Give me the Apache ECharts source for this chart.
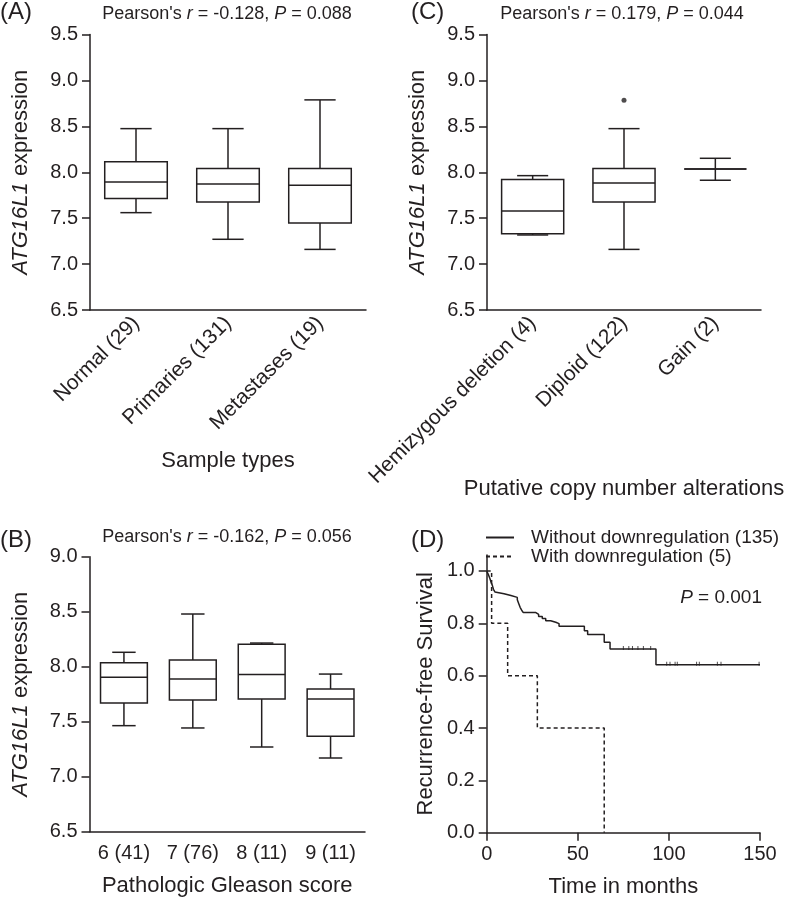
<!DOCTYPE html>
<html><head><meta charset="utf-8">
<script src="https://cdn.jsdelivr.net/npm/echarts@6/dist/echarts.min.js"></script>
<style>html,body{margin:0;padding:0;background:#fff}#c{width:787px;height:901px}</style>
</head><body><div id="c"></div>
<script>
const FONT = '"Liberation Sans", Arial, Helvetica, sans-serif';
const INK = '#231f20';

// ---- Panel A: sample types ----
const catsA = ['Normal (29)', 'Primaries (131)', 'Metastases (19)'];
// [min, Q1, median, Q3, max]
const boxA = [
  [7.56, 7.713, 7.894, 8.115, 8.475],
  [7.27, 7.676, 7.873, 8.04, 8.475],
  [7.16, 7.448, 7.858, 8.04, 8.788]
];
// ---- Panel C: copy number ----
const catsC = ['Hemizygous deletion (4)', 'Diploid (122)', 'Gain (2)'];
const boxC = [
  [7.317, 7.33, 7.578, 7.92, 7.963],
  [7.16, 7.676, 7.883, 8.04, 8.475],
  [7.913, 8.036, 8.036, 8.036, 8.152]
];
const outlierC = [[1, 8.784]];
// ---- Panel B: Gleason ----
const catsB = ['6 (41)', '7 (76)', '8 (11)', '9 (11)'];
const boxB = [
  [7.464, 7.67, 7.903, 8.036, 8.131],
  [7.443, 7.697, 7.888, 8.061, 8.479],
  [7.27, 7.706, 7.93, 8.203, 8.215],
  [7.17, 7.367, 7.706, 7.797, 7.933]
];
// ---- Panel D: Kaplan-Meier ----
const kmWithoutTime = [0, 1.0, 1.8, 2.5, 3.1, 3.7, 4.5, 5.5, 9.5, 13.3, 16.8, 17.6, 18.4, 19.2, 20.1, 27.0, 28.5, 30.5, 32.4, 35.1, 37.9, 39.7, 53.6, 55.4, 64.5, 67.7, 92.9, 150];
const kmWithoutSurv = [1.0, 0.985, 0.97, 0.955, 0.945, 0.93, 0.92, 0.913, 0.906, 0.899, 0.89, 0.875, 0.86, 0.85, 0.841, 0.834, 0.826, 0.818, 0.81, 0.804, 0.799, 0.789, 0.772, 0.757, 0.728, 0.702, 0.642, 0.642];
const censorTime = [75, 78, 80, 83, 86, 90, 98.8, 100.6, 103.4, 104.6, 115.2, 116.7, 126.6, 128.6, 149.5];
const censorSurv = [0.702, 0.702, 0.702, 0.702, 0.702, 0.702, 0.642, 0.642, 0.642, 0.642, 0.642, 0.642, 0.642, 0.642, 0.642];
const kmWithTime = [0, 2.7, 11.5, 27.8, 64.5];
const kmWithSurv = [1.0, 0.8, 0.6, 0.4, 0.0];
const nameWithout = 'Without downregulation (135)';
const nameWith = 'With downregulation (5)';
const ticksD = [0, 0.2, 0.4, 0.6, 0.8, 1.0];

const lineSt = { color: INK, width: 1.5 };
const labelBase = { color: INK, fontSize: 20, fontFamily: FONT };
const nameBase = { color: INK, fontSize: 22, fontFamily: FONT,
  rich: { i: { fontStyle: 'italic', fontSize: 22, fontFamily: FONT, color: INK } } };

function boxItem(params, api) {
  const i = api.value(0);
  const band = api.size([1, 0])[0];
  const bw = band * 0.68, cw = bw * 0.5;
  const p = (k) => api.coord([i, api.value(k)]);
  const x = p(1)[0];
  const yMin = p(1)[1], yQ1 = p(2)[1], yMed = p(3)[1], yQ3 = p(4)[1], yMax = p(5)[1];
  const st = { stroke: INK, lineWidth: 1.5, fill: null };
  const L = (x1, y1, x2, y2) => ({ type: 'line', shape: { x1, y1, x2, y2 }, style: st });
  return { type: 'group', children: [
    L(x, yQ3, x, yMax), L(x, yQ1, x, yMin),
    L(x - cw / 2, yMax, x + cw / 2, yMax), L(x - cw / 2, yMin, x + cw / 2, yMin),
    { type: 'rect', shape: { x: x - bw / 2, y: yQ3, width: bw, height: yQ1 - yQ3 }, style: { stroke: INK, lineWidth: 1.5, fill: '#fff' } },
    L(x - bw / 2, yMed, x + bw / 2, yMed)
  ] };
}

function catAxis(gi, cats, rotate, name, gap, margin, fs) {
  return { type: 'category', gridIndex: gi, data: cats,
    axisLine: { lineStyle: lineSt }, axisTick: { alignWithLabel: true, length: 8, lineStyle: lineSt },
    axisLabel: Object.assign({}, labelBase, { interval: 0, rotate: rotate, margin: margin, fontSize: fs }),
    name: name, nameLocation: 'middle', nameGap: gap, nameMoveOverlap: false, nameTextStyle: nameBase };
}
function exprAxis(gi, min, max) {
  return { type: 'value', gridIndex: gi, min: min, max: max, interval: 0.5,
    axisLine: { show: true, lineStyle: lineSt }, axisTick: { show: true, length: 8, lineStyle: lineSt },
    splitLine: { show: false },
    axisLabel: Object.assign({ margin: 12, formatter: v => v.toFixed(1) }, labelBase),
    name: '{i|ATG16L1} expression', nameLocation: 'middle', nameGap: 58, nameMoveOverlap: false, nameTextStyle: nameBase };
}

const option = {
  animation: false,
  backgroundColor: '#fff',
  textStyle: { fontFamily: FONT },
  grid: [
    { left: 90, top: 34.5, width: 276, height: 275.5 },
    { left: 487, top: 34.5, width: 274, height: 275.5 },
    { left: 89.5, top: 556.7, width: 275.5, height: 275 },
    { left: 486.7, top: 555, width: 273.3, height: 277.7 }
  ],
  xAxis: [
    catAxis(0, catsA, 45, 'Sample types', 140, 10, 21),
    catAxis(1, catsC, 45, 'Putative copy number alterations', 168, 10, 21),
    catAxis(2, catsB, 0, 'Pathologic Gleason score', 43, 12, 20),
    { type: 'value', gridIndex: 3, min: 0, max: 150, interval: 50,
      axisLine: { lineStyle: lineSt }, axisTick: { length: 8, lineStyle: lineSt }, splitLine: { show: false },
      axisLabel: Object.assign({ margin: 12 }, labelBase),
      name: 'Time in months', nameLocation: 'middle', nameGap: 43, nameMoveOverlap: false, nameTextStyle: nameBase }
  ],
  yAxis: [
    exprAxis(0, 6.5, 9.5),
    exprAxis(1, 6.5, 9.5),
    exprAxis(2, 6.5, 9.0),
    { type: 'value', gridIndex: 3, min: 0, max: 1.061, interval: 0.2,
      axisLine: { show: true, lineStyle: lineSt },
      axisTick: { show: true, length: 8, lineStyle: lineSt, customValues: ticksD },
      splitLine: { show: false },
      axisLabel: Object.assign({ margin: 12, formatter: v => v.toFixed(1), customValues: ticksD }, labelBase),
      name: 'Recurrence-free Survival', nameLocation: 'middle', nameGap: 50, nameMoveOverlap: false, nameTextStyle: nameBase }
  ],
  legend: {
    data: [nameWithout, nameWith], left: 485, top: 528, orient: 'vertical',
    itemWidth: 28, itemHeight: 10, itemGap: 0, padding: 0, selectedMode: false,
    itemStyle: { opacity: 0 },
    formatter: n => '{pad|}{n|' + n + '}',
    textStyle: { color: INK, fontSize: 19, fontFamily: FONT, lineHeight: 16,
      rich: { pad: { width: 12 }, n: { fontSize: 19, fontFamily: FONT, color: INK, lineHeight: 16 } } }
  },
  series: [
    { type: 'custom', xAxisIndex: 0, yAxisIndex: 0, renderItem: boxItem,
      encode: { x: 0, y: [1, 2, 3, 4, 5] }, data: boxA.map((b, i) => [i].concat(b)) },
    { type: 'custom', xAxisIndex: 1, yAxisIndex: 1, renderItem: boxItem,
      encode: { x: 0, y: [1, 2, 3, 4, 5] }, data: boxC.map((b, i) => [i].concat(b)) },
    { type: 'scatter', xAxisIndex: 1, yAxisIndex: 1, data: outlierC, symbol: 'circle', symbolSize: 5,
      itemStyle: { color: INK } },
    { type: 'custom', xAxisIndex: 2, yAxisIndex: 2, renderItem: boxItem,
      encode: { x: 0, y: [1, 2, 3, 4, 5] }, data: boxB.map((b, i) => [i].concat(b)) },
    { type: 'line', name: nameWithout, xAxisIndex: 3, yAxisIndex: 3, step: 'end', symbol: 'none',
      lineStyle: { color: INK, width: 1.5, type: 'solid' }, itemStyle: { color: INK },
      data: kmWithoutTime.map((t, i) => [t, kmWithoutSurv[i]]) },
    { type: 'line', name: nameWith, xAxisIndex: 3, yAxisIndex: 3, step: 'end', symbol: 'none',
      lineStyle: { color: INK, width: 1.5, type: [4, 3] }, itemStyle: { color: INK },
      data: kmWithTime.map((t, i) => [t, kmWithSurv[i]]) },
    { type: 'scatter', xAxisIndex: 3, yAxisIndex: 3, symbol: 'rect', symbolSize: [1, 4], symbolOffset: [0, -1],
      itemStyle: { color: INK }, data: censorTime.map((t, i) => [t, censorSurv[i]]) }
  ],
  graphic: [
    { type: 'text', left: 0, top: 0, style: { text: '(A)', font: '24px ' + FONT, fill: INK } },
    { type: 'text', left: 411, top: 0, style: { text: '(C)', font: '24px ' + FONT, fill: INK } },
    { type: 'text', left: 0, top: 528, style: { text: '(B)', font: '24px ' + FONT, fill: INK } },
    { type: 'text', left: 411, top: 528, style: { text: '(D)', font: '24px ' + FONT, fill: INK } },
    { type: 'text', x: 227, y: 14, style: { text: "{n|Pearson's }{i|r}{n| = -0.128, }{i|P}{n| = 0.088}", align: 'center', verticalAlign: 'middle',
      rich: { n: { font: '18px ' + FONT, fill: INK }, i: { font: 'italic 18px ' + FONT, fill: INK } } } },
    { type: 'text', x: 622, y: 14, style: { text: "{n|Pearson's }{i|r}{n| = 0.179, }{i|P}{n| = 0.044}", align: 'center', verticalAlign: 'middle',
      rich: { n: { font: '18px ' + FONT, fill: INK }, i: { font: 'italic 18px ' + FONT, fill: INK } } } },
    { type: 'text', x: 227, y: 537, style: { text: "{n|Pearson's }{i|r}{n| = -0.162, }{i|P}{n| = 0.056}", align: 'center', verticalAlign: 'middle',
      rich: { n: { font: '18px ' + FONT, fill: INK }, i: { font: 'italic 18px ' + FONT, fill: INK } } } },
    { type: 'text', x: 762, y: 598, style: { text: "{i|P}{n| = 0.001}", align: 'right', verticalAlign: 'middle',
      rich: { n: { font: '19px ' + FONT, fill: INK }, i: { font: 'italic 19px ' + FONT, fill: INK } } } }
  ]
};
const chart = echarts.init(document.getElementById('c'), null, { renderer: 'canvas' });
chart.setOption(option);
</script></body></html>
